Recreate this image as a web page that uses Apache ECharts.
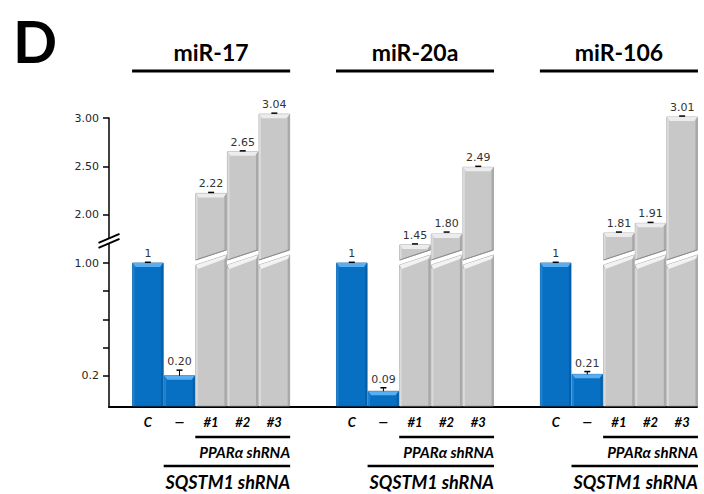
<!DOCTYPE html>
<html><head><meta charset="utf-8">
<script src="https://cdn.jsdelivr.net/npm/echarts@6/dist/echarts.min.js"></script>
<style>html,body{margin:0;padding:0;background:#fff}#c{width:704px;height:494px}</style>
</head><body><div id="c"></div>
<script>
// ---------------- data ----------------
const panelLetter = 'D';
const groups = ['miR-17', 'miR-20a', 'miR-106'];
const categories = ['C', '—', '#1', '#2', '#3'];
const valuesMiR17  = [1, 0.20, 2.22, 2.65, 3.04];
const valuesMiR20a = [1, 0.09, 1.45, 1.80, 2.49];
const valuesMiR106 = [1, 0.21, 1.81, 1.91, 3.01];
const errMiR17  = [0.005, 0.04, 0.01, 0.01, 0.01];
const errMiR20a = [0.005, 0.025, 0.01, 0.02, 0.01];
const errMiR106 = [0.005, 0.02, 0.01, 0.01, 0.01];
const yTickValues = [0.2, 0.4, 0.6, 0.8, 1.0, 2.0, 2.5, 3.0];
const yTickLabels = ['0.2', '', '', '', '1.00', '2.00', '2.50', '3.00'];
const labelPPAR = 'PPARα shRNA';
const labelSQSTM = 'SQSTM1 shRNA';
const brokenFrom = 2; // bars from this index on are drawn with a broken axis

// ---------------- scale (broken axis) ----------------
const LOWER_PX = 140, UPPER_AT2 = 188, UPPER_PX = 96, SPLIT = 1.2;
function toDisplay(v) { return v <= SPLIT ? v * LOWER_PX : UPPER_AT2 + (v - 2) * UPPER_PX; }
function errScale(v) { return v <= SPLIT ? LOWER_PX : UPPER_PX; }
const Y_MIN = -3, Y_MAX = toDisplay(3.0);
const XOFF = 0.73, STRIDE = 6.45, XMAX = 18.6;
const UP_BOT_L = 143, UP_BOT_R = 153, LOW_TOP_L = 138, LOW_TOP_R = 148, MIN_SEG = 5;
const AXIS_BREAK = 162;
const displayTicks = yTickValues.map(toDisplay);

// layout (pixels)
const TITLE_Y = 52, TITLE_LINE_Y = 71, CAT_Y = 422, PPAR_LINE_Y = 437, PPAR_TEXT_Y = 452,
      SQ_LINE_Y = 466, SQ_TEXT_Y = 482;
const FONT = 'Lato, "Open Sans", "Liberation Sans", sans-serif';
const NUMFONT = '"DejaVu Sans", Verdana, sans-serif';

const seriesValues = [valuesMiR17, valuesMiR20a, valuesMiR106];
const seriesErr = [errMiR17, errMiR20a, errMiR106];
const barData = [];
seriesValues.forEach((vals, g) => vals.forEach((v, i) => {
  barData.push([XOFF + g * STRIDE + i + 0.5, toDisplay(v), v, seriesErr[g][i], g, i]);
}));
const groupData = groups.map((n, g) => [XOFF + g * STRIDE + 2.5, 0, g]);

function poly(points, fill, stroke, lw) {
  return { type: 'polygon', shape: { points }, style: { fill, stroke: stroke || null, lineWidth: lw || 0 } };
}
function line(x1, y1, x2, y2, stroke, lw) {
  return { type: 'line', shape: { x1, y1, x2, y2 }, style: { stroke, lineWidth: lw } };
}

function renderBar(params, api) {
  const xc = api.value(0), v = api.value(2), e = api.value(3), i = api.value(5);
  const L = api.coord([xc - 0.5, 0])[0] + 0.5, R = api.coord([xc + 0.5, 0])[0] - 0.5;
  const cx = (L + R) / 2;
  const Y = d => api.coord([xc, d])[1];
  const yBot = Y(Y_MIN) - 1;
  const ch = [];
  let dTop;
  if (i < brokenFrom) {
    dTop = toDisplay(v);
    const t = Y(dTop);
    ch.push(poly([[L, yBot], [R, yBot], [R, t], [L, t]], '#0870c3', '#0a5e9e', 0.8));
    ch.push(poly([[L, t], [R, t], [R - 3, t + 4], [L + 3, t + 4]], '#58aef0'));
    ch.push(poly([[L, t], [L + 2, t + 3], [L + 2, yBot], [L, yBot]], '#1d82d2'));
    ch.push(poly([[R, t], [R - 2, t + 3], [R - 2, yBot], [R, yBot]], '#0660a8'));
  } else {
    dTop = Math.max(toDisplay(v), UP_BOT_R + MIN_SEG);
    const t = Y(dTop);
    const lowL = Y(LOW_TOP_L), lowR = Y(LOW_TOP_R), upL = Y(UP_BOT_L), upR = Y(UP_BOT_R);
    // lower piece
    ch.push(poly([[L, yBot], [R, yBot], [R, lowR], [L, lowL]], '#c8c8c8', '#9e9e9e', 0.8));
    ch.push(poly([[L, lowL], [R, lowR], [R - 2, lowR + 4], [L + 2, lowL + 4]], '#f2f2f2'));
    ch.push(poly([[L, lowL + 3], [L + 2, lowL + 4], [L + 2, yBot], [L, yBot]], '#dadada'));
    ch.push(poly([[R, lowR + 3], [R - 2, lowR + 4], [R - 2, yBot], [R, yBot]], '#a8a8a8'));
    // upper piece
    ch.push(poly([[L, upL], [R, upR], [R, t], [L, t]], '#c8c8c8', '#9e9e9e', 0.8));
    ch.push(poly([[L, t], [R, t], [R - 3, t + 4], [L + 3, t + 4]], '#ececec'));
    ch.push(poly([[L, t], [L + 2, t + 3], [L + 2, upL], [L, upL]], '#dadada'));
    ch.push(poly([[R, t], [R - 2, t + 3], [R - 2, upR], [R, upR]], '#a8a8a8'));
    ch.push(line(L, upL, R, upR, '#8c8c8c', 1));
  }
  // error bar
  const yTop = Y(dTop), yCap = Y(dTop + e * errScale(v));
  if (yTop - yCap > 2) ch.push(line(cx, yCap, cx, yTop, '#000', 1));
  ch.push(line(cx - 3, yCap, cx + 3, yCap, '#000', 1.5));
  // value label
  ch.push({ type: 'text', style: { text: v === 1 ? '1' : v.toFixed(2), x: cx, y: yCap - 3,
    align: 'center', verticalAlign: 'bottom', fill: '#333', font: '11px ' + NUMFONT } });
  // category label
  ch.push({ type: 'text', style: { text: categories[i], x: cx, y: CAT_Y,
    align: 'center', verticalAlign: 'middle', fill: '#000', font: 'italic bold 13px ' + FONT } });
  return { type: 'group', children: ch };
}

function renderGroup(params, api) {
  const xc = api.value(0), g = api.value(2);
  const gl = xc - 2.5, gr = xc + 2.5;
  const X = x => api.coord([x, 0])[0];
  const pL = X(gl), pR = X(gr), p1 = X(gl + 1), p2 = X(gl + 2), c = X(xc);
  return { type: 'group', children: [
    { type: 'text', style: { text: groups[g], x: c, y: TITLE_Y, align: 'center', verticalAlign: 'middle',
      fill: '#000', font: 'bold 23px ' + FONT } },
    line(pL, TITLE_LINE_Y, pR, TITLE_LINE_Y, '#000', 3),
    line(p2, PPAR_LINE_Y, pR, PPAR_LINE_Y, '#000', 2.5),
    { type: 'text', style: { text: labelPPAR, x: pR, y: PPAR_TEXT_Y, align: 'right', verticalAlign: 'middle',
      fill: '#000', font: 'italic bold 15px ' + FONT } },
    line(p1, SQ_LINE_Y, pR, SQ_LINE_Y, '#000', 2.5),
    { type: 'text', style: { text: labelSQSTM, x: pR, y: SQ_TEXT_Y, align: 'right', verticalAlign: 'middle',
      fill: '#000', font: 'italic bold 18px ' + FONT } }
  ] };
}

const chart = echarts.init(document.getElementById('c'), null, { renderer: 'svg' });
chart.setOption({
  animation: false,
  backgroundColor: '#fff',
  title: { text: panelLetter, left: 8, top: 6, textStyle: { fontFamily: FONT, fontWeight: 'bold', fontSize: 58, color: '#000' } },
  grid: { left: 109, right: 7, top: 118, bottom: 87, containLabel: false, outerBoundsMode: 'none' },
  xAxis: { type: 'value', min: 0, max: XMAX, axisLine: { show: true, onZero: false, lineStyle: { color: '#000', width: 2 } },
    axisTick: { show: false }, axisLabel: { show: false }, splitLine: { show: false } },
  yAxis: { type: 'value', min: Y_MIN, max: Y_MAX,
    axisLine: { show: true, onZero: false, lineStyle: { color: '#000', width: 1.5 } },
    axisTick: { show: true, customValues: displayTicks, length: 6, lineStyle: { color: '#000', width: 1.5 } },
    axisLabel: { show: true, customValues: displayTicks, margin: 10, color: '#262626', fontSize: 11, fontFamily: NUMFONT,
      formatter: (val) => { let k = 0, best = 1e9; displayTicks.forEach((d, j) => { if (Math.abs(d - val) < best) { best = Math.abs(d - val); k = j; } }); return yTickLabels[k]; } },
    splitLine: { show: false } },
  series: [
    { type: 'custom', renderItem: renderBar, data: barData, encode: { x: 0, y: 1 }, clip: false, z: 2 },
    { type: 'custom', renderItem: renderGroup, data: groupData, encode: { x: 0, y: 1 }, clip: false, z: 3 }
  ]
});
const bp = chart.convertToPixel({ gridIndex: 0 }, [0, AXIS_BREAK]);
const bx = bp[0], by = bp[1];
chart.setOption({ graphic: [
  { type: 'polygon', shape: { points: [[bx - 10.5, by + 2], [bx + 10.5, by - 7], [bx + 10.5, by - 2], [bx - 10.5, by + 7]] },
    style: { fill: '#fff' }, z: 100 },
  { type: 'line', shape: { x1: bx - 10.5, y1: by + 2, x2: bx + 10.5, y2: by - 7 }, style: { stroke: '#000', lineWidth: 2 }, z: 101 },
  { type: 'line', shape: { x1: bx - 10.5, y1: by + 7, x2: bx + 10.5, y2: by - 2 }, style: { stroke: '#000', lineWidth: 2 }, z: 101 }
] });
</script></body></html>
